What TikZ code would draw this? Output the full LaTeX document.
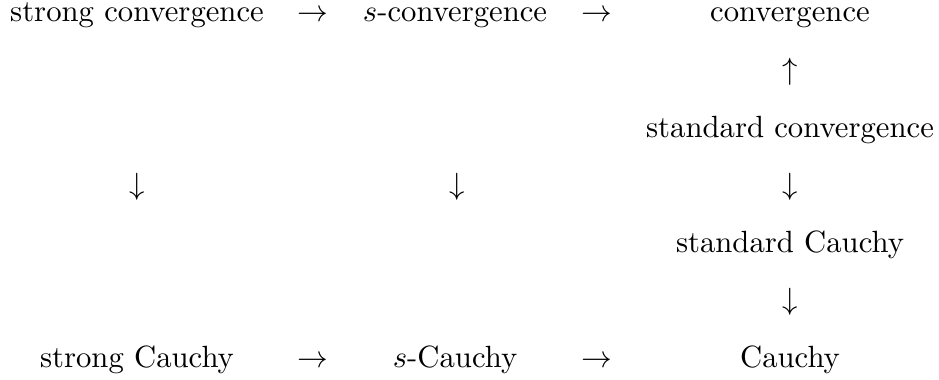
\documentclass[tikz,border=0pt]{standalone}
\usepackage{amsmath,amssymb}
\usepackage{tikz}

\begin{document}
\begin{tikzpicture}[
 x=0.3257pt,y=-0.3257pt,
 term/.style={anchor=base,inner sep=0pt},
 arr/.style={anchor=base,inner sep=0pt}]
\useasboundingbox (0,0) rectangle (939,380);
% top row: convergence notions
\node[term] (strongconv) at (137,22) {strong convergence};
\node[arr] (r11) at (313,22) {$\rightarrow$};
\node[term] (sconv) at (455,22) {$s$-convergence};
\node[arr] (r12) at (597,22) {$\rightarrow$};
\node[term] (conv) at (790,22) {convergence};
% right column
\node[arr] (up1) at (790,80) {$\uparrow$};
\node[term] (stdconv) at (790,138) {standard convergence};
\node[arr] (d1) at (137,195) {$\downarrow$};
\node[arr] (d2) at (457,195) {$\downarrow$};
\node[arr] (d3) at (790,195) {$\downarrow$};
\node[term] (stdcauchy) at (790,253) {standard Cauchy};
\node[arr] (d4) at (790,310) {$\downarrow$};
% bottom row: Cauchy notions
\node[term] (strongcauchy) at (137,368) {strong Cauchy};
\node[arr] (r21) at (313,368) {$\rightarrow$};
\node[term] (scauchy) at (455,368) {$s$-Cauchy};
\node[arr] (r22) at (597,368) {$\rightarrow$};
\node[term] (cauchy) at (790,368) {Cauchy};
\end{tikzpicture}
\end{document}
